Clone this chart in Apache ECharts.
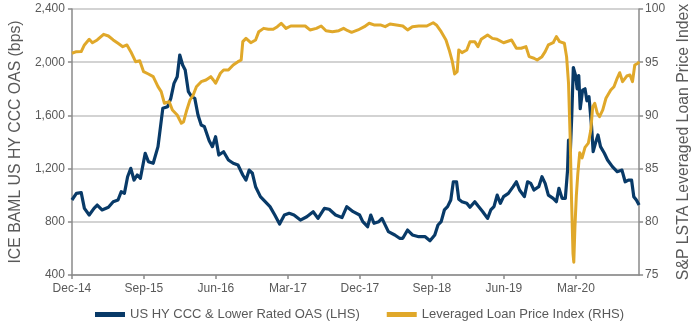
<!DOCTYPE html>
<html>
<head>
<meta charset="utf-8">
<script src="https://cdn.jsdelivr.net/npm/echarts@6/dist/echarts.min.js"></script>
<style>html,body{margin:0;padding:0;background:#fff}#c{width:700px;height:322px}</style>
</head>
<body>
<div id="c"></div>
<script>
const xLabels = ['Dec-14','Sep-15','Jun-16','Mar-17','Dec-17','Sep-18','Jun-19','Mar-20'];
const xMax = 70.9;
const oasMonths = [0,0.56,1.16,1.56,2.16,2.76,3.16,3.76,4.56,5.16,5.76,6.16,6.56,6.96,7.36,7.76,8.16,8.56,9.16,9.56,10.16,10.76,11.36,11.96,12.36,12.76,13.16,13.48,13.84,14.16,14.56,14.96,15.36,15.76,16.16,16.56,17.16,17.56,17.96,18.36,18.96,19.56,20.16,20.76,21.36,21.76,22.16,22.56,22.96,23.56,24.16,24.76,25.36,25.96,26.56,27.16,27.76,28.56,29.36,30.16,30.76,31.56,32.16,32.96,33.76,34.36,35.16,35.96,36.36,36.96,37.36,37.76,38.36,38.76,39.56,40.36,40.96,41.36,41.96,42.56,43.36,44.16,44.76,45.36,45.76,46.16,46.56,46.96,47.36,47.68,48.08,48.36,48.76,49.36,49.76,50.36,50.76,51.36,51.96,52.36,52.76,53.16,53.56,53.96,54.56,55.16,55.56,55.96,56.56,56.96,57.36,57.76,58.36,58.76,59.16,59.56,60.16,60.56,60.88,61.28,61.68,61.96,62.08,62.28,62.48,62.68,62.96,63.16,63.36,63.54,63.84,64.14,64.38,64.64,64.96,65.16,65.44,65.76,66.08,66.56,66.96,67.56,68.16,68.76,69.16,69.56,69.96,70.24,70.56,70.9];
const oasValues = [964,1014,1019,901,851,901,926,889,909,951,964,1026,1014,1139,1202,1114,1152,1127,1315,1252,1240,1365,1653,1665,1728,1841,1891,2054,1979,1941,1778,1741,1728,1603,1528,1515,1410,1365,1440,1302,1327,1265,1240,1227,1152,1114,1189,1165,1064,989,951,914,851,783,851,864,851,813,838,876,826,901,894,851,832,914,876,851,801,763,851,789,801,826,726,701,676,676,738,701,688,688,658,701,776,801,889,914,964,1101,1101,969,951,939,909,951,920,876,826,889,914,1001,939,989,1014,1064,1101,1039,989,1101,1089,1039,1064,1139,1089,1001,976,951,1052,976,976,1189,1415,1290,1590,1960,1900,1800,1900,1650,1790,1800,1710,1740,1515,1327,1390,1453,1365,1315,1265,1215,1177,1189,1101,1114,1114,989,964,926];
const loanMonths = [0,0.56,1.16,1.56,2.16,2.56,3.16,3.96,4.56,5.16,5.76,6.36,6.88,7.36,7.96,8.48,8.96,9.56,10.16,10.76,11.16,11.56,12.16,12.56,13.16,13.68,13.96,14.36,14.76,15.16,15.56,16.16,16.76,17.36,17.68,17.96,18.56,18.96,19.56,20.16,20.76,21.16,21.36,21.76,22.36,22.96,23.36,23.96,24.56,25.16,25.68,26.16,26.76,27.36,28.16,29.16,29.76,30.56,31.16,31.76,32.56,33.36,33.96,34.48,34.96,35.76,36.56,37.16,37.76,38.56,39.16,39.76,40.56,41.36,41.96,42.56,43.36,44.36,45.16,45.56,46.16,46.76,47.16,47.56,47.84,48.16,48.36,48.76,49.36,49.76,50.36,50.76,51.16,51.96,52.56,53.16,53.96,54.96,55.56,56.16,56.76,57.16,57.76,58.16,58.76,59.16,59.56,60.16,60.56,60.96,61.56,61.84,62.08,62.28,62.46,62.64,62.74,62.88,63.06,63.24,63.48,63.78,64.14,64.56,64.86,65.1,65.36,65.68,65.96,66.36,66.76,67.36,67.76,68.16,68.48,68.84,69.36,69.76,70.08,70.36,70.76,70.9];
const loanValues = [95.84,95.99,96.0,96.62,97.15,96.83,97.09,97.62,97.46,97.09,96.78,96.46,96.62,95.99,95.05,95.14,94.11,93.89,93.64,92.70,92.23,91.14,91.29,90.51,90.04,89.26,89.41,90.51,91.45,91.92,92.70,93.17,93.33,93.64,93.33,93.02,93.96,94.27,94.27,94.74,95.05,95.21,96.93,97.24,96.83,97.09,97.87,98.18,98.09,98.09,98.34,98.66,98.18,98.40,98.40,98.40,98.03,98.18,98.40,97.96,97.87,97.96,98.18,97.96,97.81,98.03,98.34,98.66,98.50,98.50,98.34,98.59,98.50,98.40,98.03,98.34,98.40,98.40,98.71,98.50,97.87,97.09,96.15,95.05,93.89,94.11,96.15,95.90,96.15,96.93,96.93,96.46,97.15,97.56,97.24,97.15,96.83,97.09,96.31,96.31,96.46,95.52,95.37,95.21,95.52,95.99,96.62,96.83,97.40,96.93,96.78,95.5,93.0,88.0,82.0,77.0,76.2,79.5,82.5,84.5,86.5,86.0,87.0,87.4,88.6,90.8,91.14,90.2,89.88,90.51,91.61,92.39,92.70,93.49,94.01,93.17,93.70,93.80,93.17,94.74,94.90,95.05];

const FONT = '"Liberation Sans", Arial, sans-serif';
const LABEL = '#595959';
const AXIS = '#8a8a8a';
const BLUE = '#083a68';
const GOLD = '#e0a82a';

const pair = (xs, ys) => xs.map((m, i) => [m, ys[i]]);

const chart = echarts.init(document.getElementById('c'), null, {renderer: 'canvas'});
chart.setOption({
  animation: false,
  textStyle: {fontFamily: FONT},
  grid: {left: 62, right: 47, top: 9, bottom: 47, containLabel: false},
  legend: {
    left: 90, top: 303,
    itemWidth: 30, itemHeight: 5, itemGap: 27,
    icon: 'rect',
    textStyle: {fontFamily: FONT, fontSize: 13, color: LABEL},
    data: ['US HY CCC & Lower Rated OAS (LHS)', 'Leveraged Loan Price Index (RHS)']
  },
  xAxis: {
    type: 'value', min: 0, max: xMax, interval: 9,
    axisLine: {show: true, lineStyle: {color: AXIS, width: 1.5}},
    axisTick: {show: true, length: 4, lineStyle: {color: AXIS, width: 1.5}},
    splitLine: {show: false},
    axisLabel: {
      fontFamily: FONT, fontSize: 12, color: LABEL, margin: 8,
      showMaxLabel: false,
      formatter: v => { const i = Math.round(v / 9); return (Math.abs(v - i * 9) < 1e-6 && xLabels[i]) ? xLabels[i] : ''; }
    }
  },
  yAxis: [
    {
      type: 'value', min: 400, max: 2400, interval: 400, position: 'left',
      name: 'ICE BAML US HY CCC OAS (bps)', nameLocation: 'middle', nameGap: 44, nameRotate: 90,
      nameTextStyle: {fontFamily: FONT, fontSize: 15.8, color: LABEL},
      axisLine: {show: true, lineStyle: {color: AXIS, width: 1.5}},
      axisTick: {show: true, length: 4, lineStyle: {color: AXIS, width: 1.5}},
      splitLine: {show: true, lineStyle: {color: '#c4c4c4', width: 1.5}},
      axisLabel: {fontFamily: FONT, fontSize: 12, color: LABEL, margin: 7,
        formatter: v => v.toLocaleString('en-US')}
    },
    {
      type: 'value', min: 75, max: 100, interval: 5, position: 'right',
      name: 'S&P LSTA Leveraged Loan Price Index', nameLocation: 'middle', nameGap: 36, nameRotate: 90,
      nameTextStyle: {fontFamily: FONT, fontSize: 15.8, color: LABEL},
      axisLine: {show: true, lineStyle: {color: AXIS, width: 1.5}},
      axisTick: {show: true, length: 4, lineStyle: {color: AXIS, width: 1.5}},
      splitLine: {show: false},
      axisLabel: {fontFamily: FONT, fontSize: 12, color: LABEL, margin: 6}
    }
  ],
  series: [
    {
      name: 'US HY CCC & Lower Rated OAS (LHS)', type: 'line', yAxisIndex: 0,
      data: pair(oasMonths, oasValues), showSymbol: false, symbol: 'none',
      lineStyle: {color: BLUE, width: 3.2, join: 'round'}, itemStyle: {color: BLUE}
    },
    {
      name: 'Leveraged Loan Price Index (RHS)', type: 'line', yAxisIndex: 1,
      data: pair(loanMonths, loanValues), showSymbol: false, symbol: 'none',
      lineStyle: {color: GOLD, width: 3, join: 'round'}, itemStyle: {color: GOLD}
    }
  ]
});
</script>
</body>
</html>
